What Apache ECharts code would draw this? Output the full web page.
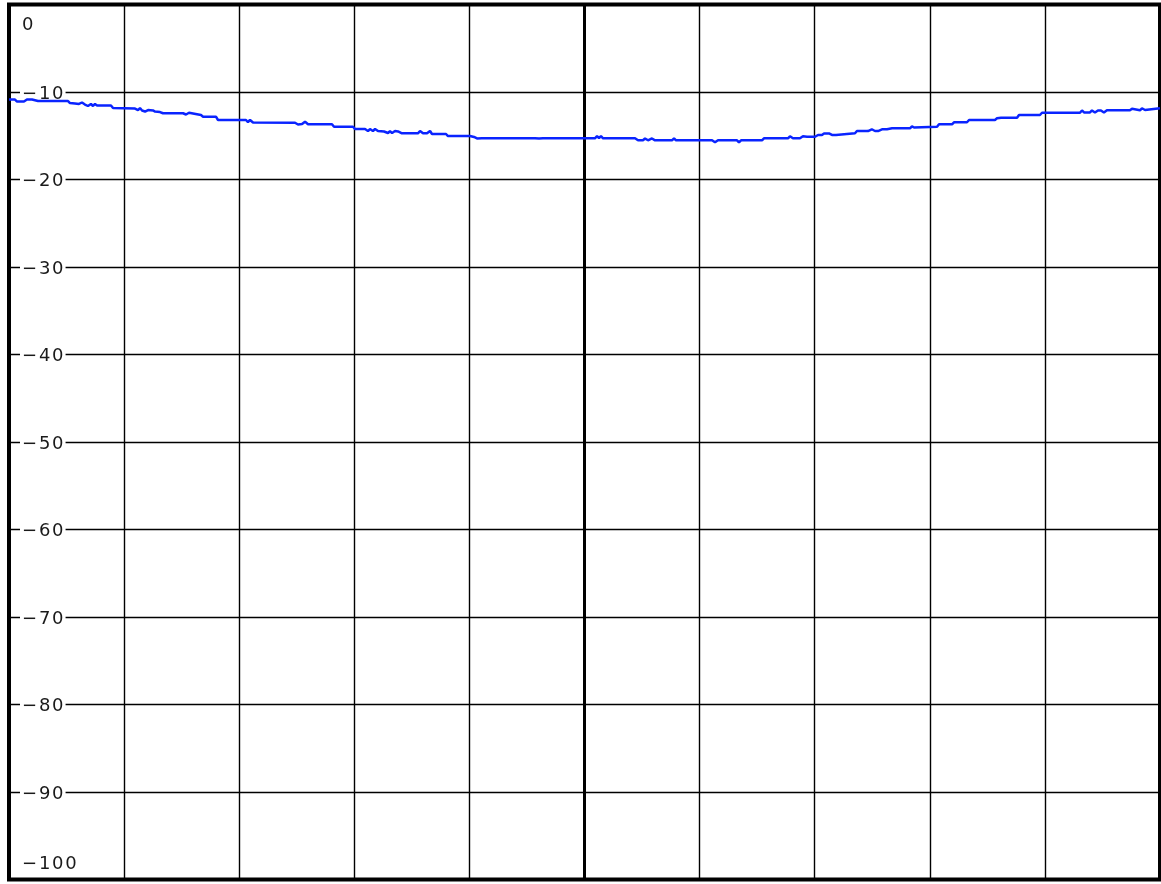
<!DOCTYPE html>
<html>
<head>
<meta charset="utf-8">
<script src="https://cdn.jsdelivr.net/npm/echarts@6/dist/echarts.min.js"></script>
<style>
  html, body { margin: 0; padding: 0; background: #fff; }
  #chart { width: 1161px; height: 884px; }
</style>
</head>
<body>
<div id="chart"></div>
<script>
// Frequency offset from centre (kHz) and measured level (dB)
const freqs = [
  -500, -494.8, -493.0, -487.0, -484.4, -480.0, -478.3, -474.8, -473.1, -471.3,
  -448.7, -447.0, -445.3, -442.7, -439.2, -436.6, -434.0, -431.4, -428.8, -427.0,
  -425.3, -423.5, -411.4, -409.6, -390.5, -387.9, -386.2, -384.4, -381.8, -379.2,
  -377.5, -374.9, -373.1, -371.4, -368.8, -366.2, -348.8, -346.2, -343.6, -341.9,
  -333.2, -331.4, -320.2, -318.4, -294.1, -292.4, -290.6, -288.0, -251.5, -248.9,
  -245.4, -242.8, -240.2, -219.4, -217.6, -201.1, -199.4, -190.7, -188.1, -186.4,
  -183.8, -182.0, -179.4, -177.7, -174.2, -170.7, -169.0, -167.2, -164.6, -162.0,
  -158.6, -144.7, -142.9, -140.3, -136.8, -134.2, -132.5, -123.8, -122.1, -120.3,
  -118.6, -99.5, -96.0, -93.4, -91.7, -89.1, -43.0, -41.3, -39.5, -37.8,
  -36.1, 9.1, 10.9, 12.6, 14.3, 16.1, 43.9, 46.5, 48.2, 50.8,
  52.6, 55.2, 58.6, 61.3, 76.0, 77.8, 79.5, 110.8, 113.4, 116.0,
  132.5, 134.2, 136.0, 154.2, 155.9, 176.8, 178.5, 181.1, 187.2, 189.8,
  193.3, 200.3, 202.9, 204.6, 206.3, 208.1, 209.8, 212.4, 215.0, 218.5,
  220.2, 235.0, 236.7, 246.3, 249.6, 252.4, 255.0, 258.5, 262.8, 264.5,
  267.2, 282.8, 284.5, 286.3, 288.0, 306.3, 308.0, 319.3, 321.0, 332.3,
  334.1, 356.6, 358.4, 360.1, 361.9, 375.8, 377.5, 395.7, 397.5, 430.5,
  432.2, 434.0, 439.2, 440.9, 443.5, 446.1, 448.7, 451.3, 453.9, 473.9,
  475.7, 477.4, 482.6, 484.3, 487.0, 488.7, 500
];
const levels = [
  -10.86, -10.86, -11.09, -11.09, -10.86, -10.86, -11.03, -11.03, -10.86, -11.03,
  -11.03, -11.26, -11.09, -11.31, -11.37, -11.20, -11.43, -11.60, -11.37, -11.60,
  -11.37, -11.54, -11.54, -11.83, -11.89, -12.06, -11.83, -12.11, -12.23, -12.06,
  -12.23, -12.11, -12.23, -12.11, -12.29, -12.43, -12.43, -12.57, -12.37, -12.57,
  -12.63, -12.82, -12.82, -13.20, -13.20, -13.43, -13.20, -13.49, -13.51, -13.71,
  -13.66, -13.39, -13.69, -13.69, -13.97, -13.97, -14.23, -14.23, -14.46, -14.23,
  -14.46, -14.23, -14.46, -14.40, -14.51, -14.69, -14.46, -14.69, -14.46, -14.51,
  -14.72, -14.72, -14.46, -14.72, -14.72, -14.46, -14.80, -14.80, -14.97, -14.80,
  -15.03, -15.03, -15.14, -15.31, -15.09, -15.29, -15.29, -15.49, -15.31, -15.49,
  -15.29, -15.29, -15.03, -15.26, -15.03, -15.29, -15.29, -15.52, -15.31, -15.52,
  -15.31, -15.52, -15.31, -15.52, -15.52, -15.29, -15.52, -15.52, -15.75, -15.52,
  -15.52, -15.75, -15.52, -15.52, -15.29, -15.29, -15.06, -15.29, -15.29, -15.06,
  -15.11, -15.11, -14.91, -14.74, -14.91, -14.74, -14.91, -14.74, -14.91, -14.91,
  -14.72, -14.72, -14.46, -14.46, -14.26, -14.46, -14.46, -14.26, -14.26, -14.46,
  -14.15, -14.15, -13.92, -14.06, -13.97, -13.97, -13.69, -13.69, -13.46, -13.46,
  -13.20, -13.20, -13.01, -13.14, -12.94, -12.94, -12.63, -12.63, -12.37, -12.37,
  -12.11, -12.34, -12.34, -12.11, -12.34, -12.11, -12.11, -12.34, -12.09, -12.09,
  -11.91, -12.09, -12.09, -11.86, -12.06, -11.86, -11.86
];
// Level axis ticks (dB)
const levelTicks = [0, -10, -20, -30, -40, -50, -60, -70, -80, -90, -100];

const chart = echarts.init(document.getElementById('chart'), null, { renderer: 'canvas' });

// spaced-out tick text with a true minus sign
function tickText(v) {
  return String(v).replace('-', '\u2212').split('').join('\u200A');
}

const labelBase = { fontFamily: 'DejaVu Sans', fontSize: 18, color: '#1a1a1a' };

chart.setOption({
  animation: false,
  backgroundColor: '#fff',
  grid: {
    left: 9, right: 1, top: 4.5, bottom: 4.5,
    show: true, borderColor: '#000', borderWidth: 4, backgroundColor: 'transparent'
  },
  xAxis: {
    type: 'value', min: -500, max: 500, interval: 100,
    axisLine: { show: false }, axisTick: { show: false }, axisLabel: { show: false },
    splitLine: { show: true, lineStyle: { color: '#000', width: 1.4 } }
  },
  yAxis: {
    type: 'value',
    min: levelTicks[levelTicks.length - 1], max: levelTicks[0], interval: 10,
    axisLine: { show: false }, axisTick: { show: false },
    splitLine: { show: true, lineStyle: { color: '#000', width: 1.4 } },
    axisLabel: {
      inside: true, margin: 11,
      formatter: function (v) {
        if (v === levelTicks[0]) return '{top|' + tickText(v) + '}';
        if (v === levelTicks[levelTicks.length - 1]) return '{bot|' + tickText(v) + '}';
        return '{mid|' + tickText(v) + '}';
      },
      rich: {
        top: Object.assign({ padding: [41, 0, 0, 2] }, labelBase),
        bot: Object.assign({ padding: [0, 0, 31, 2] }, labelBase),
        mid: Object.assign({ padding: [4, 2, 0, 2], backgroundColor: '#fff' }, labelBase)
      }
    }
  },
  series: [{
    type: 'line',
    data: freqs.map((f, i) => [f, levels[i]]),
    showSymbol: false,
    lineStyle: { color: '#0a24ff', width: 2.5 },
    z: 5,
    markLine: {
      silent: true, symbol: ['none', 'none'], label: { show: false },
      lineStyle: { color: '#000', width: 3, type: 'solid' },
      data: [{ xAxis: 0 }]
    }
  }]
});
</script>
</body>
</html>
